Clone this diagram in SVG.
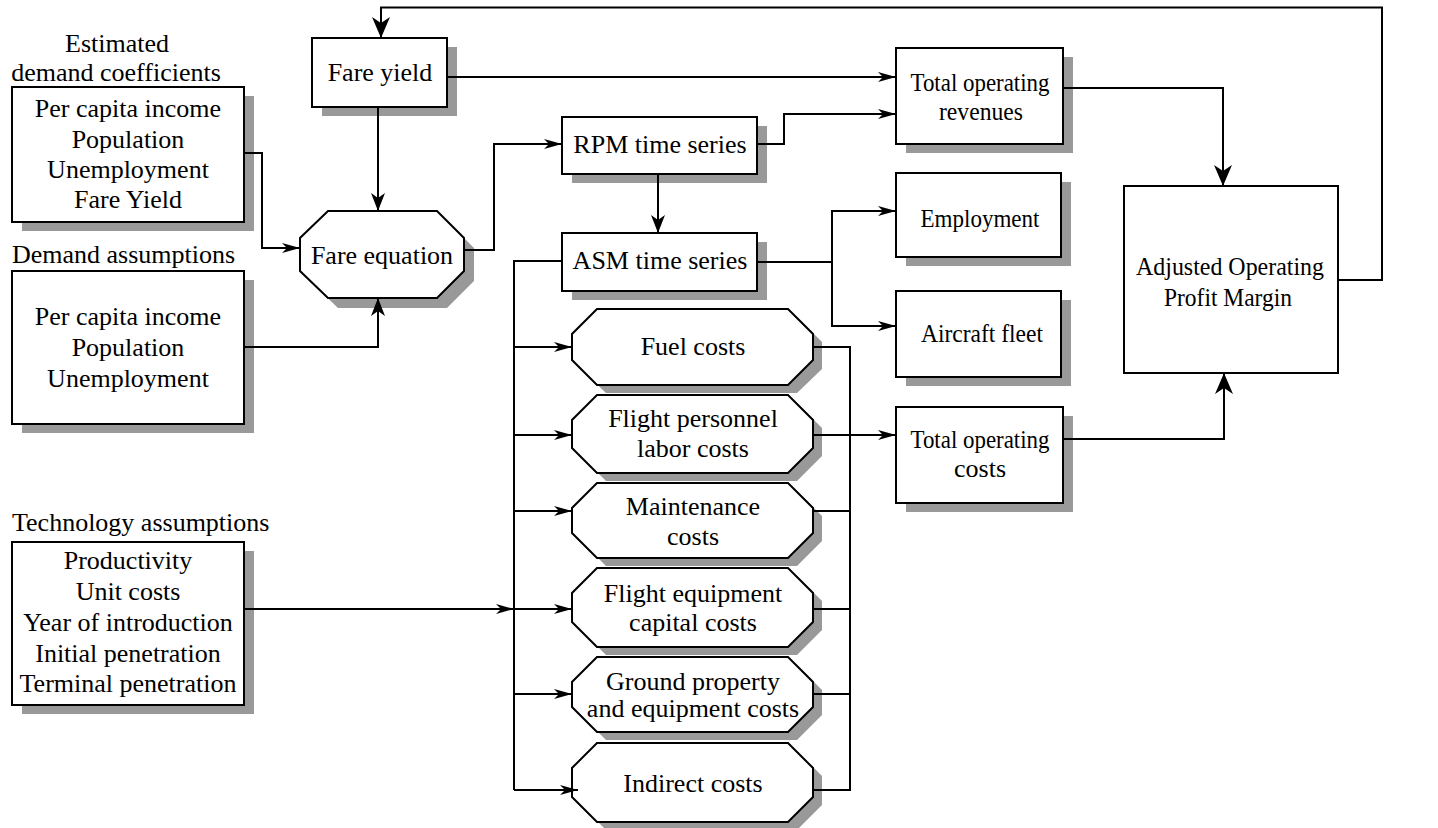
<svg xmlns="http://www.w3.org/2000/svg" width="1438" height="828" viewBox="0 0 1438 828">
<style>
text{font-family:"Liberation Serif","Times New Roman",serif;font-size:26px;fill:#000}
.c{text-anchor:middle}
.box{fill:#fff;stroke:#000;stroke-width:2}
.sh{fill:#999;stroke:none}
.ln{fill:none;stroke:#000;stroke-width:2}
</style>
<defs>
<marker id="a" markerUnits="userSpaceOnUse" markerWidth="20" markerHeight="12" refX="18" refY="5" orient="auto" overflow="visible">
<path d="M0,0 L18,5 L0,10 L5,5 z" fill="#000"/>
</marker>
<marker id="m" markerUnits="userSpaceOnUse" markerWidth="20" markerHeight="16" refX="18" refY="7" orient="auto" overflow="visible">
<path d="M0,0 L18,7 L0,14 L5,7 z" fill="#000"/>
</marker>
<marker id="b" markerUnits="userSpaceOnUse" markerWidth="22" markerHeight="20" refX="21" refY="9" orient="auto" overflow="visible">
<path d="M0,0 L21,9 L0,18 L6,9 z" fill="#000"/>
</marker>
</defs>

<g id="labels">
<text class="c" x="117" y="52">Estimated</text>
<text class="c" x="116" y="81">demand coefficients</text>
<text x="12" y="263">Demand assumptions</text>
<text x="12" y="531">Technology assumptions</text>
</g>

<g id="est-demand">
<rect class="sh" x="22" y="96" width="232" height="135"/>
<rect class="box" x="12" y="87" width="232" height="135"/>
<text class="c" x="128" y="117">Per capita income</text>
<text class="c" x="128" y="148">Population</text>
<text class="c" x="128" y="178">Unemployment</text>
<text class="c" x="128" y="208">Fare Yield</text>
</g>

<g id="demand-assumptions">
<rect class="sh" x="22" y="280" width="232" height="153"/>
<rect class="box" x="12" y="271" width="232" height="153"/>
<text class="c" x="128" y="325">Per capita income</text>
<text class="c" x="128" y="356">Population</text>
<text class="c" x="128" y="387">Unemployment</text>
</g>

<g id="tech-assumptions">
<rect class="sh" x="22" y="551" width="232" height="163"/>
<rect class="box" x="12" y="542" width="232" height="163"/>
<text class="c" x="128" y="569">Productivity</text>
<text class="c" x="128" y="600">Unit costs</text>
<text class="c" x="128" y="631">Year of introduction</text>
<text class="c" x="128" y="662">Initial penetration</text>
<text class="c" x="128" y="692">Terminal penetration</text>
</g>

<g id="fare-yield">
<rect class="sh" x="322" y="47" width="135" height="69"/>
<rect class="box" x="312" y="38" width="135" height="69"/>
<text class="c" x="380" y="81">Fare yield</text>
</g>

<g id="fare-equation">
<polygon class="sh" points="338,221 447,221 474,248 474,281 447,308 338,308 310,281 310,248"/>
<polygon class="box" points="328,211 437,211 464,238 464,271 437,298 328,298 300,271 300,238"/>
<text class="c" x="382" y="264">Fare equation</text>
</g>

<g id="rpm">
<rect class="sh" x="572" y="126" width="195" height="57"/>
<rect class="box" x="562" y="117" width="195" height="57"/>
<text class="c" x="660" y="153">RPM time series</text>
</g>

<g id="asm">
<rect class="sh" x="572" y="242" width="195" height="58"/>
<rect class="box" x="562" y="233" width="195" height="58"/>
<text class="c" x="660" y="269">ASM time series</text>
</g>

<g id="fuel">
<polygon class="sh" points="606,317 797,317 822,342 822,369 797,393 606,393 581,369 581,342"/>
<polygon class="box" points="597,309 788,309 813,334 813,360 788,385 597,385 572,360 572,334"/>
<text class="c" x="693" y="355">Fuel costs</text>
</g>

<g id="flight-personnel">
<polygon class="sh" points="606,403 797,403 822,428 822,456 797,481 606,481 581,456 581,428"/>
<polygon class="box" points="597,395 788,395 813,420 813,448 788,473 597,473 572,448 572,420"/>
<text class="c" x="693" y="427">Flight personnel</text>
<text class="c" x="693" y="457">labor costs</text>
</g>

<g id="maintenance">
<polygon class="sh" points="606,491 797,491 822,516 822,541 797,566 606,566 581,541 581,516"/>
<polygon class="box" points="597,483 788,483 813,508 813,533 788,558 597,558 572,533 572,508"/>
<text class="c" x="693" y="515">Maintenance</text>
<text class="c" x="693" y="545">costs</text>
</g>

<g id="flight-equipment">
<polygon class="sh" points="606,576 797,576 822,601 822,630 797,655 606,655 581,630 581,601"/>
<polygon class="box" points="597,568 788,568 813,593 813,622 788,647 597,647 572,622 572,593"/>
<text class="c" x="693" y="602">Flight equipment</text>
<text class="c" x="693" y="631">capital costs</text>
</g>

<g id="ground-property">
<polygon class="sh" points="606,665 797,665 822,690 822,715 797,740 606,740 581,715 581,690"/>
<polygon class="box" points="597,657 788,657 813,682 813,707 788,732 597,732 572,707 572,682"/>
<text class="c" x="693" y="690">Ground property</text>
<text class="c" x="693" y="717">and equipment costs</text>
</g>

<g id="indirect">
<polygon class="sh" points="606,751 797,751 822,776 822,805 797,830 606,830 581,805 581,776"/>
<polygon class="box" points="597,743 788,743 813,768 813,797 788,822 597,822 572,797 572,768"/>
<text class="c" x="693" y="792">Indirect costs</text>
</g>

<g id="total-revenues">
<rect class="sh" x="906" y="57" width="167" height="96"/>
<rect class="box" x="896" y="48" width="167" height="96"/>
<text class="c" x="980" y="91" textLength="139" lengthAdjust="spacingAndGlyphs">Total operating</text>
<text class="c" x="981" y="120" textLength="84" lengthAdjust="spacingAndGlyphs">revenues</text>
</g>

<g id="employment">
<rect class="sh" x="906" y="182" width="165" height="84"/>
<rect class="box" x="896" y="173" width="165" height="84"/>
<text class="c" x="980" y="227" textLength="119" lengthAdjust="spacingAndGlyphs">Employment</text>
</g>

<g id="aircraft-fleet">
<rect class="sh" x="906" y="300" width="165" height="86"/>
<rect class="box" x="896" y="291" width="165" height="86"/>
<text class="c" x="982" y="342" textLength="122" lengthAdjust="spacingAndGlyphs">Aircraft fleet</text>
</g>

<g id="total-costs">
<rect class="sh" x="906" y="416" width="167" height="96"/>
<rect class="box" x="896" y="407" width="167" height="96"/>
<text class="c" x="980" y="448" textLength="139" lengthAdjust="spacingAndGlyphs">Total operating</text>
<text class="c" x="980" y="477">costs</text>
</g>

<g id="adjusted-margin">
<rect class="box" x="1124" y="186" width="214" height="187"/>
<text class="c" x="1230" y="275" textLength="188" lengthAdjust="spacingAndGlyphs">Adjusted Operating</text>
<text class="c" x="1228" y="306" textLength="128" lengthAdjust="spacingAndGlyphs">Profit Margin</text>
</g>

<g id="connectors">
<path class="ln" d="M1338,280 H1382 V7.5 H381 V38" marker-end="url(#b)"/>
<path class="ln" d="M447,77 H896" marker-end="url(#a)"/>
<path class="ln" d="M378,107 V211" marker-end="url(#m)"/>
<path class="ln" d="M243,153 H262 V248 H300" marker-end="url(#a)"/>
<path class="ln" d="M243,347 H378 V298" marker-end="url(#m)"/>
<path class="ln" d="M464,250 H494 V144 H562" marker-end="url(#a)"/>
<path class="ln" d="M757,144 H784 V114 H896" marker-end="url(#a)"/>
<path class="ln" d="M658,174 V233" marker-end="url(#m)"/>
<path class="ln" d="M757,262 H832 V211 H896" marker-end="url(#a)"/>
<path class="ln" d="M832,262 V326 H896" marker-end="url(#a)"/>
<path class="ln" d="M1063,88 H1223 V186" marker-end="url(#b)"/>
<path class="ln" d="M1063,439 H1224 V373" marker-end="url(#b)"/>
<path class="ln" d="M562,261 H514 V790"/>
<path class="ln" d="M514,347 H572" marker-end="url(#a)"/>
<path class="ln" d="M514,435 H572" marker-end="url(#a)"/>
<path class="ln" d="M514,511 H572" marker-end="url(#a)"/>
<path class="ln" d="M514,609 H572" marker-end="url(#a)"/>
<path class="ln" d="M514,694 H572" marker-end="url(#a)"/>
<path class="ln" d="M514,790 H578" marker-end="url(#a)"/>
<path class="ln" d="M243,609 H514" marker-end="url(#a)"/>
<path class="ln" d="M813,347 H850 V790 H813"/>
<path class="ln" d="M813,511 H850 M813,609 H850 M813,694 H850"/>
<path class="ln" d="M813,435 H896" marker-end="url(#a)"/>
</g>
</svg>
